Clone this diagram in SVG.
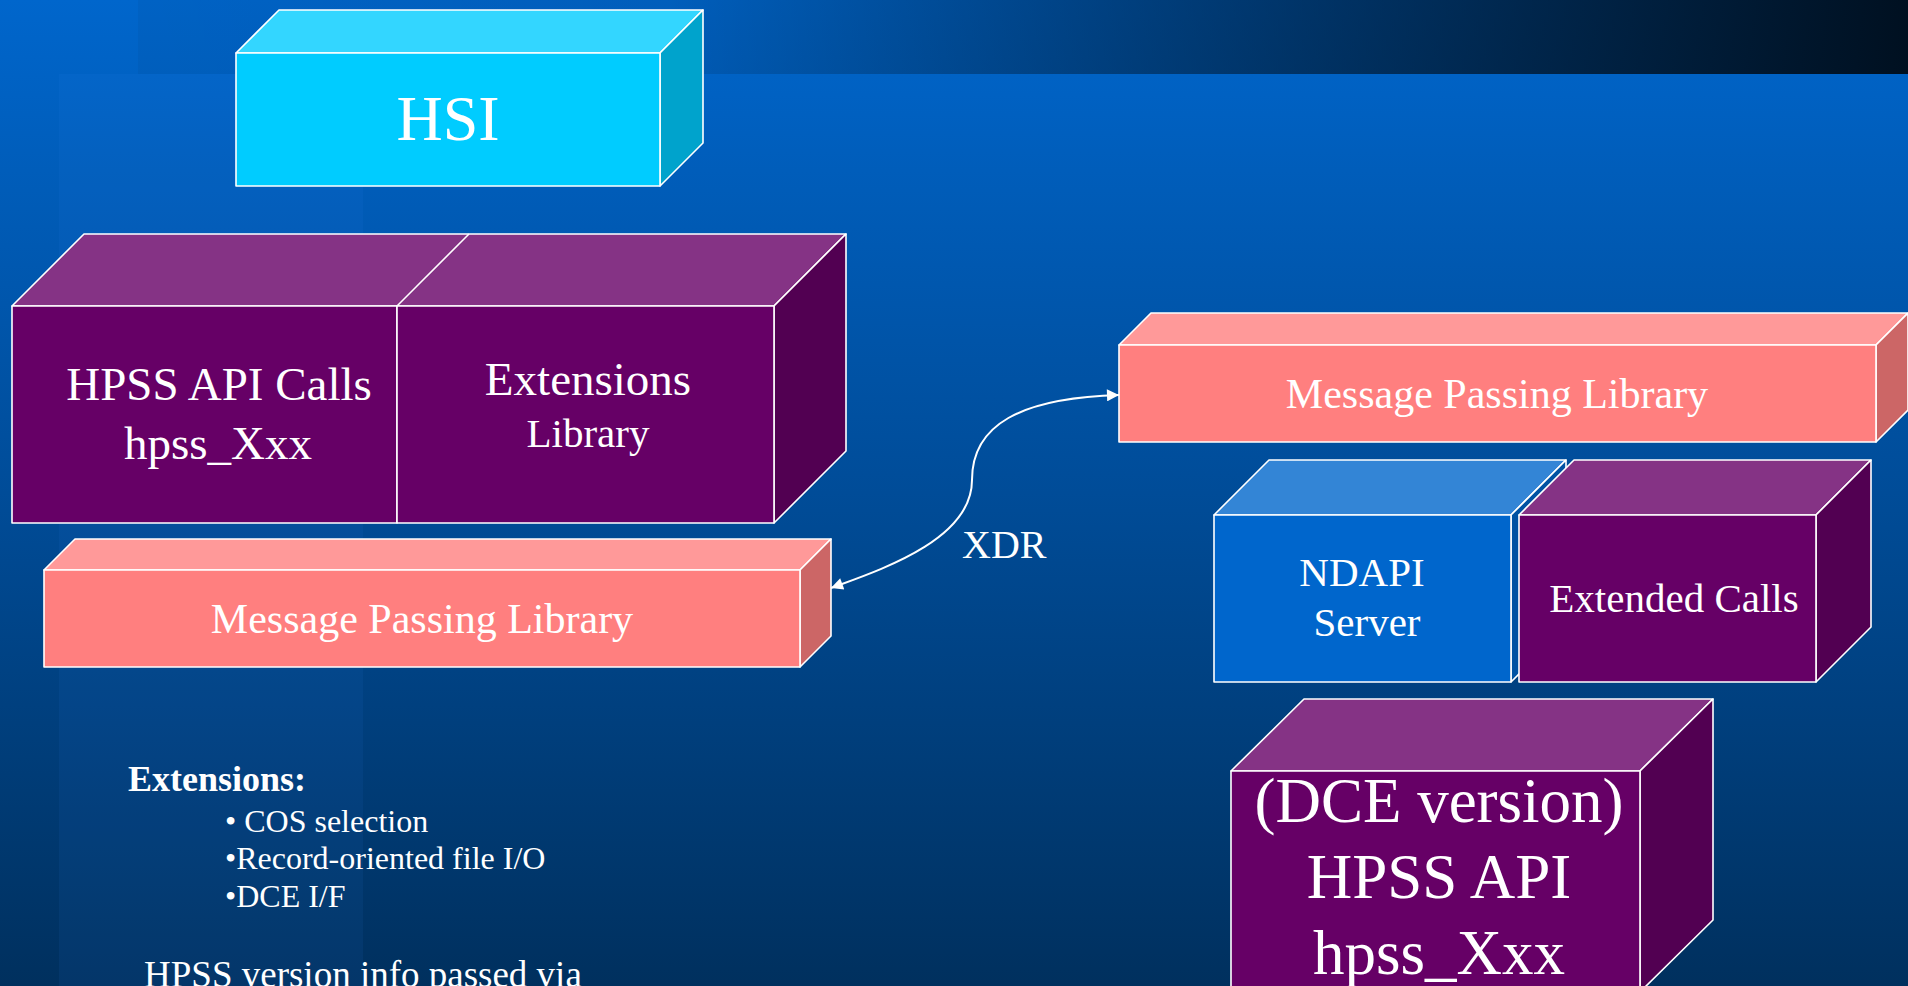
<svg xmlns="http://www.w3.org/2000/svg" width="1908" height="986" viewBox="0 0 1908 986">
<defs>
<linearGradient id="bgGrad" x1="0" y1="0" x2="0" y2="1">
<stop offset="0" stop-color="#0066cc"/>
<stop offset="0.5" stop-color="#004c98"/>
<stop offset="1" stop-color="#00305e"/>
</linearGradient>
<linearGradient id="bandGrad" x1="0" y1="0" x2="1" y2="0">
<stop offset="0" stop-color="#000000" stop-opacity="0.04"/>
<stop offset="0.3" stop-color="#000000" stop-opacity="0.08"/>
<stop offset="1" stop-color="#000a14" stop-opacity="0.93"/>
</linearGradient>
<marker id="arr" viewBox="0 0 10 10" refX="10" refY="5" markerWidth="14" markerHeight="12" markerUnits="userSpaceOnUse" orient="auto-start-reverse">
<path d="M0,0 L10,5 L0,10 z" fill="#ffffff"/>
</marker>
<style>
.e{stroke:#ffffff;stroke-width:1.6;stroke-linejoin:round}
.cF{fill:#00ccff}.cT{fill:#33d6ff}.cS{fill:#00a3cc}
.pF{fill:#660066}.pT{fill:#853385}.pS{fill:#520052}
.sF{fill:#ff7f7f}.sT{fill:#ff9999}.sS{fill:#cc6666}
.bF{fill:#0066cc}.bT{fill:#3385d6}.bS{fill:#0052a3}
text{font-family:"Liberation Serif","Times New Roman",serif;fill:#ffffff}
.c{text-anchor:middle}
</style>
</defs>
<g id="background">
<rect x="0" y="0" width="1908" height="986" fill="url(#bgGrad)"/>
<rect x="59" y="74" width="304" height="912" fill="#3a8cff" opacity="0.07"/>
<rect x="138" y="0" width="1770" height="74" fill="url(#bandGrad)"/>
</g>
<g id="node-hsi">
<polygon class="e cT" points="236,53 279,10 703,10 660,53"/>
<polygon class="e cS" points="660,53 703,10 703,143 660,186"/>
<rect class="e cF" x="236" y="53" width="424" height="133"/>
<text class="c" x="448" y="140" font-size="64">HSI</text>
</g>
<g id="node-hpss-calls-extensions">
<polygon class="e pT" points="12,306 84,234 846,234 774,306"/>
<line class="e" x1="397" y1="306" x2="469" y2="234"/>
<polygon class="e pS" points="774,306 846,234 846,451 774,523"/>
<rect class="e pF" x="12" y="306" width="385" height="217"/>
<rect class="e pF" x="397" y="306" width="377" height="217"/>
<text class="c" x="219" y="400" font-size="47">HPSS API Calls</text>
<text class="c" x="218" y="459" font-size="47">hpss_Xxx</text>
<text class="c" x="588" y="395" font-size="47">Extensions</text>
<text class="c" x="588" y="447" font-size="41">Library</text>
</g>
<g id="node-mpl-left">
<polygon class="e sT" points="44,570 75,539 831,539 800,570"/>
<polygon class="e sS" points="800,570 831,539 831,636 800,667"/>
<rect class="e sF" x="44" y="570" width="756" height="97"/>
<text class="c" x="422" y="633" font-size="42">Message Passing Library</text>
</g>
<g id="node-mpl-right">
<polygon class="e sT" points="1119,345 1151,313 1908,313 1876,345"/>
<polygon class="e sS" points="1876,345 1908,313 1908,410 1876,442"/>
<rect class="e sF" x="1119" y="345" width="757" height="97"/>
<text class="c" x="1497" y="408" font-size="42">Message Passing Library</text>
</g>
<g id="node-ndapi">
<polygon class="e bT" points="1214,515 1269,460 1566,460 1511,515"/>
<polygon class="e bS" points="1511,515 1566,460 1566,627 1511,682"/>
<rect class="e bF" x="1214" y="515" width="297" height="167"/>
<text class="c" x="1362" y="586" font-size="41">NDAPI</text>
<text class="c" x="1367" y="636" font-size="41">Server</text>
</g>
<g id="node-extended-calls">
<polygon class="e pT" points="1519,515 1574,460 1871,460 1816,515"/>
<polygon class="e pS" points="1816,515 1871,460 1871,627 1816,682"/>
<rect class="e pF" x="1519" y="515" width="297" height="167"/>
<text class="c" x="1674" y="612" font-size="41">Extended Calls</text>
</g>
<g id="node-dce-api">
<polygon class="e pT" points="1231,771 1304,699 1713,699 1640,771"/>
<polygon class="e pS" points="1640,771 1713,699 1713,920 1640,992"/>
<rect class="e pF" x="1231" y="771" width="409" height="221"/>
<text class="c" x="1439" y="822" font-size="63">(DCE version)</text>
<text class="c" x="1439" y="898" font-size="63">HPSS API</text>
<text class="c" x="1439" y="974" font-size="63">hpss_Xxx</text>
</g>
<g id="connectors">
<path d="M831,588 C880,570 972,540 972,480 C972,425 1020,398 1119,395" fill="none" stroke="#ffffff" stroke-width="2" marker-start="url(#arr)" marker-end="url(#arr)"/>
<text x="962" y="558" font-size="40">XDR</text>
</g>
<g id="notes">
<text x="128" y="791" font-size="36" font-weight="bold">Extensions:</text>
<text x="225" y="832" font-size="32">• COS selection</text>
<text x="225" y="869" font-size="32">•Record-oriented file I/O</text>
<text x="225" y="907" font-size="32">•DCE I/F</text>
<text x="144" y="987" font-size="37">HPSS version info passed via</text>
</g>
</svg>
